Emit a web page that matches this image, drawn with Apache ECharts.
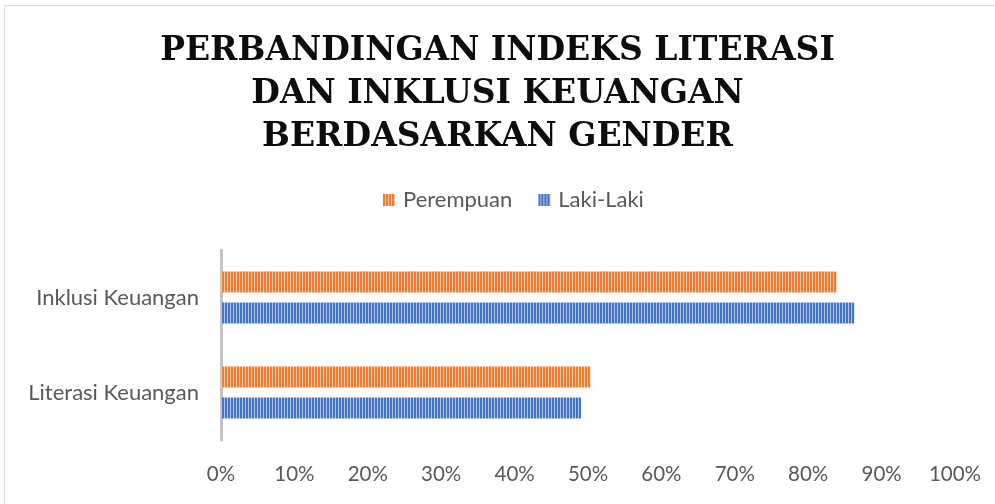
<!DOCTYPE html>
<html>
<head>
<meta charset="utf-8">
<script src="https://cdn.jsdelivr.net/npm/echarts@6/dist/echarts.min.js"></script>
<style>
  html, body { margin: 0; padding: 0; background: #fff; }
  #main { width: 995px; height: 504px; }
</style>
</head>
<body>
<div id="main"></div>
<script>
var categories = ['Literasi Keuangan', 'Inklusi Keuangan'];
var lakiLaki = [0.4905, 0.8628];
var perempuan = [0.5033, 0.8388];
var xTicks = [0, 0.1, 0.2, 0.3, 0.4, 0.5, 0.6, 0.7, 0.8, 0.9, 1];

// vertical stripe fill like the Excel pattern
function stripes(dark, light) {
    var c = document.createElement('canvas');
    c.width = 3;
    c.height = 4;
    var ctx = c.getContext('2d');
    ctx.fillStyle = dark;
    ctx.fillRect(0, 0, 2, 4);
    ctx.fillStyle = light;
    ctx.fillRect(2, 0, 1, 4);
    return { image: c, repeat: 'repeat' };
}

var orangeFill = stripes('#ed7d31', '#f8c9a8');
var blueFill = stripes('#4472c4', '#b4c7e7');

var labelFont = 'Lato';

var chartDom = document.getElementById('main');
var myChart = echarts.init(chartDom);
var option;

option = {
    backgroundColor: '#fff',
    animation: false,
    title: {
        text: 'PERBANDINGAN INDEKS LITERASI\nDAN INKLUSI KEUANGAN\nBERDASARKAN GENDER',
        left: 'center',
        top: 25,
        textStyle: {
            fontFamily: 'DejaVu Serif',
            fontWeight: 'bold',
            fontSize: 33,
            lineHeight: 43,
            color: '#0d0d0d'
        }
    },
    legend: {
        data: ['Perempuan', 'Laki-Laki'],
        top: 184,
        left: 378,
        itemWidth: 12,
        itemHeight: 12,
        itemGap: 26,
        icon: 'rect',
        textStyle: {
            fontFamily: labelFont,
            fontSize: 22,
            color: '#595959',
            padding: [0, 0, 0, 3]
        }
    },
    grid: {
        left: 221,
        right: 40,
        top: 250,
        bottom: 64,
        containLabel: false
    },
    xAxis: {
        type: 'value',
        min: 0,
        max: 1,
        interval: 0.1,
        axisLine: { show: false },
        axisTick: { show: false },
        splitLine: { show: false },
        axisLabel: {
            margin: 24,
            fontFamily: labelFont,
            fontSize: 20.5,
            color: '#595959',
            formatter: function (v) {
                return Math.round(v * 100) + '%';
            }
        }
    },
    yAxis: {
        type: 'category',
        data: categories,
        axisLine: {
            lineStyle: {
                color: '#c4c4c4',
                width: 3
            }
        },
        axisTick: { show: false },
        axisLabel: {
            margin: 22,
            fontFamily: labelFont,
            fontSize: 22,
            color: '#595959'
        }
    },
    series: [
        {
            name: 'Perempuan',
            type: 'bar',
            data: perempuan,
            barWidth: 21,
            barGap: '48%',
            itemStyle: { color: orangeFill }
        },
        {
            name: 'Laki-Laki',
            type: 'bar',
            data: lakiLaki,
            barWidth: 21,
            barGap: '48%',
            itemStyle: { color: blueFill }
        }
    ],
    graphic: [
        {
            type: 'rect',
            shape: { x: 4.5, y: 5.5, width: 1100, height: 700 },
            style: { fill: null, stroke: '#d9d9d9', lineWidth: 1 },
            silent: true
        }
    ]
};

option && myChart.setOption(option);

window.addEventListener('resize', myChart.resize);
</script>
</body>
</html>
